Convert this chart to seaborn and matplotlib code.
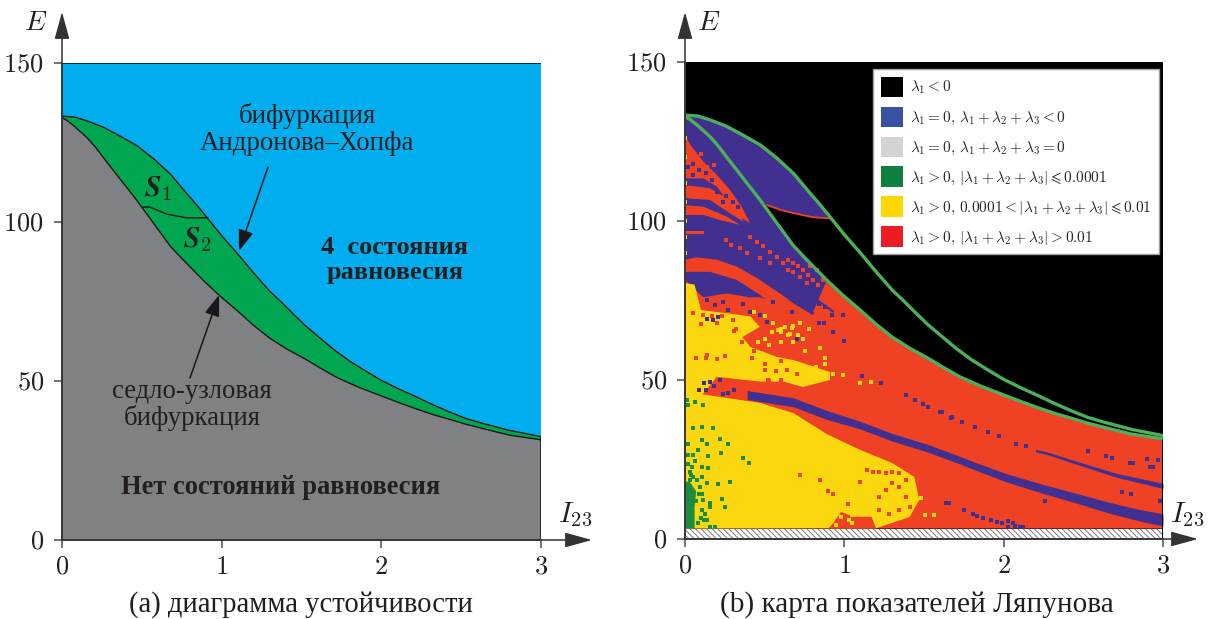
import numpy as np
import matplotlib
matplotlib.use("Agg")
import matplotlib.pyplot as plt
from matplotlib.patches import Patch, FancyArrowPatch
import seaborn as sns

sns.set_style("white")
plt.rcParams["font.family"] = ["Liberation Serif", "DejaVu Serif"]
plt.rcParams["mathtext.fontset"] = "cm"
plt.rcParams["hatch.linewidth"] = 0.7

W, H = 1208, 619
TEXT = "#231f20"
AXC = "#4d4d4f"
BLUE_MAP, RED_MAP, YEL_MAP, GRN_MAP = "#41308f", "#ef4124", "#fbd70f", "#1b8e3d"
CURVE = "#4cb05a"

y_ticks = [0, 50, 100, 150]
y_tick_labels = ["$0$", "$50$", "$100$", "$150$"]
x_ticks = [0, 1, 2, 3]
x_tick_labels = ["$0$", "$1$", "$2$", "$3$"]

# bifurcation curves
hopf_x = [0, .08, .157, .26, .364, .47, .576, .68, .784, .85, .91, 1.0, 1.1, 1.2, 1.3, 1.37, 1.44, 1.52, 1.6, 1.7, 1.8, 1.9, 2.0, 2.11, 2.22, 2.32, 2.43, 2.53, 2.64, 2.8, 3]
hopf_e = [133.3, 133, 131.8, 129.8, 127, 124, 119.8, 115, 108.8, 105, 101.3, 95.7, 90, 84, 78.3, 75, 71.5, 67.6, 64.2, 60, 56.3, 53.2, 50.2, 47.5, 45, 42.6, 40.2, 38.2, 36.6, 34.5, 32.5]
sn_x = [0, .03, .08, .157, .21, .263, .364, .47, .576, .678, .73, .784, .89, .99, 1.1, 1.2, 1.3, 1.41, 1.52, 1.62, 1.725, 1.86, 2.0, 2.11, 2.22, 2.32, 2.43, 2.53, 2.64, 2.8, 3]
sn_e = [132.8, 132, 130, 126.5, 123.5, 120, 113.5, 106.7, 99.4, 92.4, 89.6, 86.8, 81.4, 76.7, 72, 67.5, 63.5, 60, 57, 54, 51, 48, 45.3, 43.2, 41.2, 39.5, 37.9, 36.4, 35, 33, 31.5]
s_bound_x = [.5, .55, .655, .78, .915]
s_bound_e = [104.7, 104.7, 102.5, 101.3, 101.3]

# map regions
blue_low_x = [.8, .47, .39, .26, .115, 0]
blue_low_e = [71, 76, 76, 76, 76, 81.5]
yellow_x = [0, 0, .06, .1, .26, .41, .47, .36, .41, .58, .68, .91, .91, .74, .62, .47, .2, .11, .47, .68, .89, 1.1, 1.3, 1.44, 1.47, 1.41, 1.2]
yellow_e = [3.3, 80.5, 80, 72, 71, 70, 66.7, 63.5, 60.4, 57.2, 56.3, 52.5, 50, 47.8, 49.5, 49.5, 51, 45.5, 42.8, 39.6, 33, 28, 23.9, 19.5, 12.3, 6.9, 3.4]
green_x = [0, .06, .06, .07, .03, 0]
green_e = [3.3, 3.3, 10, 15, 18, 18]
s1_edge_x = [.515, .6, .68, .8, .91]
s1_edge_e = [105, 103.5, 102.5, 101.2, 100.8]

stripe_a_x = [0, .042, .115, .2, .282, .356, .408, .356, .293, .2, .115, 0]
stripe_a_e = [126.8, 123.4, 118.7, 114.5, 109.8, 104.5, 99.3, 100.9, 104.5, 110.8, 113.4, 113.4]
stripe_b_x = [0, .157, .262, .345, .366, .282, .157, 0]
stripe_b_e = [111.3, 110.3, 107.2, 102.4, 99.8, 102.4, 106.6, 107.2]
stripe_r3_x = [0, .115, .262, .345, .22, .115, 0]
stripe_r3_e = [105, 104.5, 101.4, 98.8, 100.3, 101.9, 101.9]
stripe_c_x = [0, .073, .2, .324, .47, .596, .68, .785, .596, .47, .324, .157, 0]
stripe_c_e = [87.8, 88.6, 87.8, 85.7, 81.5, 77.3, 74.1, 71, 72, 76.8, 81.5, 84, 84]
stripe_d_x = [0, .12, .12, 0]
stripe_d_e = [95.9, 95.9, 97, 97]
stripe_e_x = [0, .115, .26, .387, .47, .51, .3, .1, 0]
stripe_e_e = [80, 76, 77.2, 76.2, 72.5, 68.8, 68, 68, 70]
hole_x = [.9, 1.05, 1.2, 1.17, 1.06, .98, .93]
hole_e = [3.3, 3.3, 3.3, 7, 7, 8.5, 5]

main_band_x = [.39, .68, .89, 1.1, 1.3, 1.52, 1.725, 1.8, 2.02, 2.23, 2.43, 2.65, 2.85, 3]
main_band_e = [45.3, 43, 39, 35.8, 32, 28.6, 24.8, 23.3, 19.2, 16, 13.2, 10, 7.5, 6]
main_band_w = [1.4, 1.4, 1.4, 1.2, 1.2, 1.2, 1.2, 1.2, 1.3, 1.4, 1.5, 1.7, 1.8, 1.9]
thin_band_x = [2.2, 2.27, 2.5, 2.71, 3]
thin_band_e = [27.8, 27, 23.3, 20, 16.7]
thin_band_w = [.4, .4, .5, .6, .8]
diag_a_x = [.49, .8]
diag_a_e = [81.4, 71]
diag_b_x = [.64, .93]
diag_b_e = [82, 71.5]

green_pts_x = [.136, .157, .188, .126, .157, .105, .115, .157, .23, .251, .105, .136, .209, .105, .146, .105, .052, .073, .042, .02, .052, .084, .146, .226, .105, .136, .22, .272, .02, .02, .366, .404, .282, .178, .105, .052, .02, .063, .115, .01, .094, .031, .08, .1, .07, .09, .12, .04, .03, .06]
green_pts_e = [5.9, 3.8, 3.8, 8, 10.1, 9, 12.2, 11.2, 12.7, 10.1, 14.3, 17.5, 17.2, 19.6, 22.2, 22.7, 19.6, 18.5, 22.7, 23.7, 26.4, 27.9, 26.2, 26.9, 31.1, 30, 31.3, 30, 30, 26.4, 25.6, 24, 18, 34.8, 35.3, 34.8, 42.1, 43.1, 42.1, 43.7, 16.4, 18.5, 5, 6.5, 12, 14, 6, 20, 21, 24.5]
blue_pts_x = [1.109, 1.23, 1.385, 1.443, 1.495, 1.527, 1.6, 1.673, 1.61, 1.67, 1.74, 1.82, 1.9, 1.97, 2.08, 2.14, 2.53, 2.64, 2.68, 2.79, 2.81, 2.92, 2.94, 2.9, 2.97, 2.74, 2.8, 2.98, 2.26, 1.64, 1.66, 1.75, 1.81, 1.83, 1.87, 1.92, 1.96, 1.99, 2.03, 2.06, 2.03, 2.07, 2.1, 2.12, .93, 1.0, .74, .92, .99, .87, .84, .67, .7, .55, .76, .8, .84, .88, .09, .13, .18, .22, .27, .31, .24, .12, .16,
              .02, .05, .09, .13, .17, .05, .1, .26, .3, .2, .33, .24, .136, .188, .24, .272, .366, .408, .47, .513, .209, .136, .178]
blue_pts_e = [51.2, 48.9, 45.2, 43.7, 42.4, 41.6, 39.8, 38.4, 39.8, 38.2, 36.8, 35.3, 33.7, 32.3, 30, 29.3, 27.7, 26.2, 25.5, 24, 24, 22.5, 22.5, 25.3, 24.8, 14.7, 14.1, 12, 12, 11.2, 11.2, 9.1, 8, 7.3, 6.7, 5.9, 5.4, 5.1, 5.7, 4.9, 3.8, 4, 3.8, 3.8, 65.2, 62.2, 80.4, 70.4, 70.4, 67.8, 67.8, 71.4, 63, 74.6, 76, 75, 74, 73, 47, 47, 48, 50, 46, 47, 45.5, 49, 49.5,
              117, 118, 116, 115, 113, 114.6, 112, 108, 106, 109, 104.5, 106, 75.1, 73.5, 74.6, 72, 74, 71.4, 70.4, 68.3, 69.9, 69.3, 68.8]
red_pts_x = [1.14, 1.18, 1.22, 1.26, 1.3, 1.34, 1.39, 1.3, 1.34, 1.26, 1.22, 1.39, 1.41, 1.34, 1.28, 1.22, 1.1, .05, .11, .17, .23, .3, .1, .2, .31, .36, .43, .55, .6, .5, .42, .5, .57, .64, .7, .6, .53, .76, .14, .2, .25, .93, 1.02, .85, .72, .9, .07, .13, .32, .45, .52,
             .649, .68, .711, .743, .774, .805, .837, .68, .722, .764, .649, .826, .784, .868, .408, .45, .49, .533, .575, .617, .26, .29, .345, .387, .47, .533, .03, .07, .1, .14, .18]
red_pts_e = [21.7, 21.1, 21.1, 20.6, 21.1, 20.6, 18.5, 17.5, 16.4, 15.4, 13.3, 13.3, 10.1, 9, 8, 9, 18, 71, 70.5, 70, 70, 69, 67.5, 68, 65.5, 62, 59, 59, 56, 55, 57, 53, 52.8, 53, 51.8, 50, 49.8, 47, 58, 56.5, 57.5, 14, 11, 18.5, 20, 15, 57, 57, 66, 61, 50,
             87.8, 86.7, 85.7, 84.6, 83, 81.5, 79.9, 84, 82.5, 80.4, 84.6, 84.6, 85.7, 81.5, 95.1, 93.5, 92, 90.4, 88.8, 86.7, 94, 92.5, 91.4, 89.8, 88.3, 86.7, 121, 119, 121, 117, 117.5]
yellow_pts_x = [1.506, 1.56, 1.43, 1.48, 1.05, .98, .95, .88, .85, .74, .66, .6, .93, .88, .82, .75, .68, .6, .55, .72, .78, .99, 1.1, 1.17, 1.05, .98, 1.03, 1.12, .43, .5, .6, .68, .003, .003, .003, .003, .003, .003, .003, .05, .12, .586, .628, .669, .711, .544, .649, .5, .46, .53]
yellow_pts_e = [7.5, 7.5, 13.3, 13, 5, 7, 4.5, 57, 60, 63, 64.5, 66, 52, 55, 54, 59, 62, 62, 68, 68, 66, 51.5, 49, 49.5, 7.5, 9, 6, 9, 71.5, 70, 65, 67, 126, 120, 112, 106, 100, 95, 90, 67, 66, 65.7, 66.7, 66.2, 64.1, 65.2, 64.1, 63, 62, 61]


def fig_px(x, y):
    return x / W, 1 - y / H


def make_axes(left, right, top, bottom):
    ax = fig.add_axes([left / W, 1 - bottom / H, (right - left) / W, (bottom - top) / H])
    ax.set_xlim(0, 3)
    ax.set_ylim(0, 150)
    ax.set_xticks(x_ticks, x_tick_labels, fontsize=19, color=TEXT)
    ax.set_yticks(y_ticks, y_tick_labels, fontsize=19, color=TEXT)
    ax.tick_params(axis="both", direction="out", length=6, width=1.1, color=AXC,
                   bottom=True, left=True)
    ax.tick_params(axis="y", pad=7)
    ax.tick_params(axis="x", pad=6)
    for side in ("top", "right"):
        ax.spines[side].set_visible(False)
    for side in ("left", "bottom"):
        ax.spines[side].set_color(AXC)
        ax.spines[side].set_linewidth(1.4)
        ax.spines[side].set_zorder(20)
    return ax


def axis_arrows(x0, y0, x_tip, y_tip):
    for tip in ((x0, y_tip), (x_tip, y0)):
        fig.add_artist(FancyArrowPatch(
            fig_px(x0, y0), fig_px(*tip), transform=fig.transFigure,
            arrowstyle="-|>,head_length=0.62,head_width=0.17", mutation_scale=27,
            shrinkA=0, shrinkB=0, lw=1.1, color="#333333", zorder=30))


def label(x, y, s, size, **kw):
    kw.setdefault("ha", "center")
    kw.setdefault("va", "center")
    kw.setdefault("color", TEXT)
    fig.text(x / W, 1 - y / H, s, fontsize=size, **kw)


def pointer(x0, y0, x1, y1):
    fig.add_artist(FancyArrowPatch(
        fig_px(x0, y0), fig_px(x1, y1), transform=fig.transFigure,
        arrowstyle="-|>,head_length=0.62,head_width=0.22", mutation_scale=21,
        shrinkA=0, shrinkB=0, lw=1.1, color="#1a1718", zorder=30))


def cells(ax, xs, es, color):
    sns.scatterplot(x=xs, y=es, ax=ax, marker="s", s=6.5, color=color, linewidth=0, zorder=5, legend=False)


def curve(ax, xs, es, color, lw, z=8):
    sns.lineplot(x=xs, y=es, ax=ax, color=color, lw=lw, sort=False, estimator=None, errorbar=None, zorder=z)


fig = plt.figure(figsize=(W / 100, H / 100), dpi=100)

# ---------- left panel ----------
axL = make_axes(62, 541, 63, 540)
axL.set_facecolor("#00adef")
axL.fill(np.r_[0, hopf_x, 3, 0], np.r_[0, hopf_e, 0, 0], color="#00a650", lw=0, zorder=1)
axL.fill(np.r_[0, sn_x, 3, 0], np.r_[0, sn_e, 0, 0], color="#808184", lw=0, zorder=2)
curve(axL, hopf_x, hopf_e, "#1a1718", 1.0)
curve(axL, sn_x, sn_e, "#1a1718", 1.0)
curve(axL, s_bound_x, s_bound_e, "#1a1718", 1.0)
curve(axL, [0, 3], [150, 150], "#1a1718", 1.2)
curve(axL, [3, 3], [0, 32], "#1a1718", 1.2)
axL.set_xlim(0, 3)
axL.set_ylim(0, 150)
axis_arrows(62, 540, 592, 12)

label(158, 189, r"$\mathbfit{S}_1$", 21)
label(197, 240, r"$\mathbfit{S}_2$", 21)
label(307, 116, "бифуркация", 19.4)
label(307, 143, "Андронова–Хопфа", 19.4)
label(395, 247, "4  состояния", 19, fontweight="bold")
label(395, 273, "равновесия", 19, fontweight="bold")
label(192, 392, "седло-узловая", 19.3)
label(192, 418, "бифуркация", 19.3)
label(281, 488, "Нет состояний равновесия", 19.1, fontweight="bold")
label(301, 605, "(a) диаграмма устойчивости", 20.6)
label(36, 24, "$E$", 20)
label(575, 515, "$I_{23}$", 21)
pointer(268, 167, 239, 251)
pointer(190, 378, 219, 295)

# ---------- right panel ----------
axR = make_axes(685, 1163, 62, 539)
axR.set_facecolor("black")
hx, he, sx, se = map(np.array, (hopf_x, hopf_e, sn_x, sn_e))
axR.fill(np.r_[0, sx, 3, 0], np.r_[3.3, se, 3.3, 3.3], color=RED_MAP, lw=0, zorder=1)
m = sx <= .89
axR.fill(np.r_[sx[m], blue_low_x], np.r_[se[m], blue_low_e], color=BLUE_MAP, lw=0, zorder=2)
mh = hx <= .91
ms = sx < .515
axR.fill(np.r_[hx[mh], s1_edge_x[::-1], sx[ms][::-1]], np.r_[he[mh], s1_edge_e[::-1], se[ms][::-1]],
         color=BLUE_MAP, lw=0, zorder=2)
curve(axR, s1_edge_x, s1_edge_e, RED_MAP, 1.3, z=3)
for px_, pe_ in ((stripe_a_x, stripe_a_e), (stripe_b_x, stripe_b_e), (stripe_r3_x, stripe_r3_e),
                 (stripe_c_x, stripe_c_e), (stripe_d_x, stripe_d_e), (stripe_e_x, stripe_e_e)):
    axR.fill(px_, pe_, color=RED_MAP, lw=0, zorder=3)
axR.fill(yellow_x, yellow_e, color=YEL_MAP, lw=0, zorder=3)
axR.fill(hole_x, hole_e, color=RED_MAP, lw=0, zorder=3.5)
axR.fill(green_x, green_e, color=GRN_MAP, lw=0, zorder=4)
for a, b, w in ((main_band_x, main_band_e, main_band_w), (thin_band_x, thin_band_e, thin_band_w)):
    axR.fill_between(a, np.array(b) - np.array(w), np.array(b) + np.array(w), color=BLUE_MAP, lw=0, zorder=4)
curve(axR, diag_a_x, diag_a_e, BLUE_MAP, 2.2, z=4)
curve(axR, diag_b_x, diag_b_e, BLUE_MAP, 1.5, z=4)
cells(axR, green_pts_x, green_pts_e, GRN_MAP)
cells(axR, red_pts_x, red_pts_e, RED_MAP)
cells(axR, yellow_pts_x, yellow_pts_e, YEL_MAP)
cells(axR, blue_pts_x, blue_pts_e, BLUE_MAP)
axR.fill_between([0, 3], [0, 0], [3.3, 3.3], facecolor="white", edgecolor="#7a7a7a", hatch="\\\\\\\\\\\\", lw=0, zorder=6)
curve(axR, hopf_x, hopf_e, CURVE, 2.4)
curve(axR, sn_x, sn_e, CURVE, 2.4)
curve(axR, [3, 3], [0, 31], "black", 2.2)
axR.set_xlim(0, 3)
axR.set_ylim(0, 150)
axis_arrows(685, 539, 1198, 12)

legend_labels = [
    r"$\lambda_1 < 0$",
    r"$\lambda_1 = 0,\,\lambda_1 + \lambda_2 + \lambda_3 < 0$",
    r"$\lambda_1 = 0,\,\lambda_1 + \lambda_2 + \lambda_3 = 0$",
    r"$\lambda_1 > 0,\,|\lambda_1 + \lambda_2 + \lambda_3| \leqslant 0.0001$",
    r"$\lambda_1 > 0,\,0.0001 < |\lambda_1 + \lambda_2 + \lambda_3| \leqslant 0.01$",
    r"$\lambda_1 > 0,\,|\lambda_1 + \lambda_2 + \lambda_3| > 0.01$",
]
legend_colors = ["#000000", "#3953a4", "#d1d3d4", "#0e8040", "#ffd600", "#ed1c24"]
handles = [Patch(facecolor=c, edgecolor="none") for c in legend_colors]
leg = axR.legend(handles, legend_labels, loc="upper left",
                 bbox_to_anchor=(873 / W, 1 - 69 / H), bbox_transform=fig.transFigure,
                 fontsize=11, frameon=True, fancybox=False, framealpha=1, facecolor="white",
                 edgecolor="#a0a0a0", handlelength=1.44, handleheight=1.67, labelspacing=0.63,
                 handletextpad=0.5, borderpad=0.5, borderaxespad=0)
leg.set_zorder(15)

label(917, 605, "(b) карта показателей Ляпунова", 21.1)
label(709, 24, "$E$", 20)
label(1187, 515, "$I_{23}$", 21)

fig.savefig("out.png", dpi=100)
